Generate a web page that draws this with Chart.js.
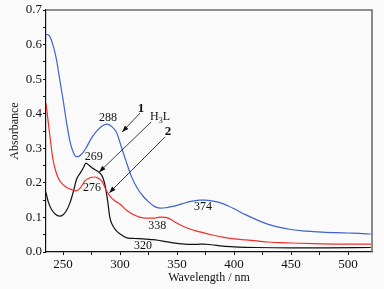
<!DOCTYPE html>
<html>
<head>
<meta charset="utf-8">
<script src="https://cdn.jsdelivr.net/npm/chart.js@4/dist/chart.umd.min.js"></script>
<style>
  html, body { margin: 0; padding: 0; background: #fafafa; }
  canvas { display: block; }
</style>
</head>
<body>
<canvas id="chart" width="384" height="289"></canvas>
<script>
    "use strict";

    // wavelength (nm) / absorbance
    var blueNm = [235, 238, 241, 244, 247, 250, 253, 256, 259, 262, 266, 270, 275, 280, 285, 289, 293, 297,
        301, 305, 310, 315, 320, 325, 330, 335, 340, 345, 350, 355, 360, 365, 370, 375, 380, 385, 390, 395,
        400, 410, 420, 430, 440, 450, 460, 470, 480, 490, 500, 510, 520];
    var blueAbs = [0.630, 0.625, 0.600, 0.560, 0.500, 0.440, 0.375, 0.320, 0.288, 0.275, 0.282, 0.300, 0.330,
        0.352, 0.366, 0.370, 0.362, 0.345, 0.305, 0.265, 0.218, 0.185, 0.162, 0.145, 0.132, 0.127, 0.128,
        0.131, 0.135, 0.140, 0.145, 0.148, 0.150, 0.150, 0.148, 0.145, 0.140, 0.133, 0.125, 0.108, 0.093,
        0.080, 0.071, 0.065, 0.061, 0.059, 0.057, 0.056, 0.055, 0.054, 0.052];

    var redNm = [235, 237, 239, 241, 243, 246, 250, 254, 258, 261, 265, 269, 273, 278, 281, 284, 288, 292,
        296, 300, 306, 311, 317, 323, 329, 335, 340, 344, 348, 353, 360, 370, 380, 390, 400, 410, 420, 430,
        440, 450, 470, 490, 520];
    var redAbs = [0.430, 0.375, 0.320, 0.270, 0.240, 0.212, 0.195, 0.185, 0.180, 0.177, 0.185, 0.205, 0.214,
        0.217, 0.213, 0.205, 0.177, 0.158, 0.147, 0.138, 0.120, 0.109, 0.101, 0.098, 0.098, 0.101, 0.100,
        0.095, 0.087, 0.078, 0.068, 0.058, 0.050, 0.043, 0.038, 0.035, 0.032, 0.029, 0.027, 0.026, 0.024,
        0.023, 0.023];

    var blackNm = [235, 237, 240, 243, 247, 250, 253, 256, 259, 262, 265, 268, 270, 273, 276, 280, 283, 285,
        287, 289, 291, 293, 296, 300, 306, 313, 320, 327, 333, 340, 350, 360, 367, 373, 380, 390, 400, 420,
        450, 480, 520];
    var blackAbs = [0.172, 0.145, 0.122, 0.110, 0.104, 0.108, 0.120, 0.142, 0.175, 0.212, 0.228, 0.245, 0.257,
        0.250, 0.242, 0.234, 0.226, 0.214, 0.190, 0.150, 0.100, 0.080, 0.064, 0.052, 0.041, 0.039, 0.038,
        0.036, 0.034, 0.030, 0.025, 0.022, 0.022, 0.023, 0.021, 0.017, 0.015, 0.013, 0.012, 0.012, 0.013];

    // axis ticks (minor ticks get no label)
    var xTickValues = [250, 275, 300, 325, 350, 375, 400, 425, 450, 475, 500];
    var xLabelled = [250, 300, 350, 400, 450, 500];
    var yTickValues = [0, 0.05, 0.1, 0.15, 0.2, 0.25, 0.3, 0.35, 0.4, 0.45, 0.5, 0.55, 0.6, 0.65, 0.7];
    var yLabelled = [0, 0.1, 0.2, 0.3, 0.4, 0.5, 0.6, 0.7];

    // peak labels and arrow callouts, in data units
    var peakText = ['288', '269', '276', '338', '320', '374'];
    var peakNm = [289.5, 277, 275.4, 332.5, 320, 372.8];
    var peakAbs = [0.388, 0.275, 0.185, 0.075, 0.017, 0.130];

    var calloutText = ['1', 'H3L', '2'];
    var calloutNm = [318.4, 335, 342];
    var calloutAbs = [0.414, 0.39, 0.347];
    var arrowFromNm = [317.5, 327.2, 339.5];
    var arrowFromAbs = [0.402, 0.376, 0.333];
    var arrowToNm = [301.8, 281.6, 290.4];
    var arrowToAbs = [0.347, 0.231, 0.171];

    var SERIF = '"Liberation Serif", "DejaVu Serif", serif';

    function toPoints(xs, ys) {
        return xs.map(function (x, i) {
            return {x: x, y: ys[i]};
        });
    }

    function lineSet(label, xs, ys, color) {
        return {
            label: label,
            data: toPoints(xs, ys),
            borderColor: color,
            borderWidth: 1.2,
            pointRadius: 0,
            fill: false,
            cubicInterpolationMode: 'monotone',
        };
    }

    // frame on top/right + annotations
    var extras = {
        id: 'extras',
        afterDatasetsDraw: function (chart) {
            var ctx = chart.ctx;
            var a = chart.chartArea;
            var xs = chart.scales.x;
            var ys = chart.scales.y;
            ctx.save();

            ctx.strokeStyle = '#6e6e6e';
            ctx.lineWidth = 1.6;
            ctx.beginPath();
            ctx.moveTo(a.left, a.top);
            ctx.lineTo(a.right, a.top);
            ctx.lineTo(a.right, a.bottom);
            ctx.stroke();

            ctx.fillStyle = '#111';
            ctx.font = '12px ' + SERIF;
            ctx.textAlign = 'center';
            ctx.textBaseline = 'middle';
            peakText.forEach(function (t, i) {
                ctx.fillText(t, xs.getPixelForValue(peakNm[i]), ys.getPixelForValue(peakAbs[i]));
            });

            // arrows
            ctx.strokeStyle = '#111';
            ctx.lineWidth = 0.8;
            arrowFromNm.forEach(function (n, i) {
                var x1 = xs.getPixelForValue(n), y1 = ys.getPixelForValue(arrowFromAbs[i]);
                var x2 = xs.getPixelForValue(arrowToNm[i]), y2 = ys.getPixelForValue(arrowToAbs[i]);
                var ang = Math.atan2(y2 - y1, x2 - x1);
                ctx.beginPath();
                ctx.moveTo(x1, y1);
                ctx.lineTo(x2, y2);
                ctx.stroke();
                ctx.beginPath();
                ctx.moveTo(x2, y2);
                ctx.lineTo(x2 - 7 * Math.cos(ang - 0.35), y2 - 7 * Math.sin(ang - 0.35));
                ctx.lineTo(x2 - 7 * Math.cos(ang + 0.35), y2 - 7 * Math.sin(ang + 0.35));
                ctx.closePath();
                ctx.fill();
            });

            calloutText.forEach(function (t, i) {
                var cx = xs.getPixelForValue(calloutNm[i]);
                var cy = ys.getPixelForValue(calloutAbs[i]);
                if (t === 'H3L') {
                    ctx.font = '12px ' + SERIF;
                    ctx.textAlign = 'left';
                    var wH = ctx.measureText('H').width;
                    ctx.font = '8px ' + SERIF;
                    var w3 = ctx.measureText('3').width;
                    ctx.font = '12px ' + SERIF;
                    var wL = ctx.measureText('L').width;
                    var x0 = cx - (wH + w3 + wL) / 2;
                    ctx.fillText('H', x0, cy);
                    ctx.font = '8px ' + SERIF;
                    ctx.fillText('3', x0 + wH, cy + 4);
                    ctx.font = '12px ' + SERIF;
                    ctx.fillText('L', x0 + wH + w3, cy);
                } else {
                    ctx.font = 'bold 13px ' + SERIF;
                    ctx.textAlign = 'center';
                    ctx.fillText(t, cx, cy);
                }
            });
            ctx.restore();
        }
    };

    var background = {
        id: 'background',
        beforeDraw: function (chart) {
            var ctx = chart.ctx;
            ctx.save();
            ctx.fillStyle = '#fafafa';
            ctx.fillRect(0, 0, chart.width, chart.height);
            ctx.restore();
        }
    };

    var ctx = document.getElementById('chart');
    new Chart(ctx, {
        type: 'line',
        data: {
            datasets: [
                lineSet('1', blueNm, blueAbs, '#3d64c8'),
                lineSet('2', redNm, redAbs, '#f0302a'),
                lineSet('H3L', blackNm, blackAbs, '#111111'),
            ],
        },
        options: {
            responsive: false,
            animation: false,
            layout: {padding: {top: 10, right: 12, left: 0, bottom: 0}},
            plugins: {legend: {display: false}, tooltip: {enabled: false}},
            scales: {
                x: {
                    type: 'linear',
                    min: 235,
                    max: 521,
                    afterBuildTicks: function (scale) {
                        scale.ticks = xTickValues.map(function (v) { return {value: v}; });
                    },
                    afterFit: function (scale) { scale.height = 37; },
                    grid: {drawOnChartArea: false, tickLength: 3, color: '#111'},
                    border: {color: '#111', width: 1.2},
                    ticks: {
                        autoSkip: false,
                        maxRotation: 0,
                        padding: 2,
                        color: '#111',
                        font: {family: SERIF, size: 13},
                        callback: function (v) { return xLabelled.indexOf(v) >= 0 ? String(v) : ''; },
                    },
                    title: {
                        display: true,
                        text: 'Wavelength / nm',
                        color: '#111',
                        font: {family: SERIF, size: 12},
                        padding: {top: 0, bottom: 4},
                    },
                },
                y: {
                    min: 0,
                    max: 0.7,
                    afterBuildTicks: function (scale) {
                        scale.ticks = yTickValues.map(function (v) { return {value: v}; });
                    },
                    afterFit: function (scale) { scale.width = 46; },
                    grid: {drawOnChartArea: false, tickLength: 3, color: '#111'},
                    border: {color: '#111', width: 1.2},
                    ticks: {
                        autoSkip: false,
                        padding: 1,
                        color: '#111',
                        font: {family: SERIF, size: 13},
                        callback: function (v) {
                            var hit = yLabelled.some(function (l) { return Math.abs(l - v) < 1e-6; });
                            return hit ? v.toFixed(1) : '';
                        },
                    },
                    title: {
                        display: true,
                        text: 'Absorbance',
                        color: '#111',
                        font: {family: SERIF, size: 12},
                        padding: {top: 8, bottom: 0},
                    },
                },
            },
        },
        plugins: [background, extras],
    });
</script>
</body>
</html>
